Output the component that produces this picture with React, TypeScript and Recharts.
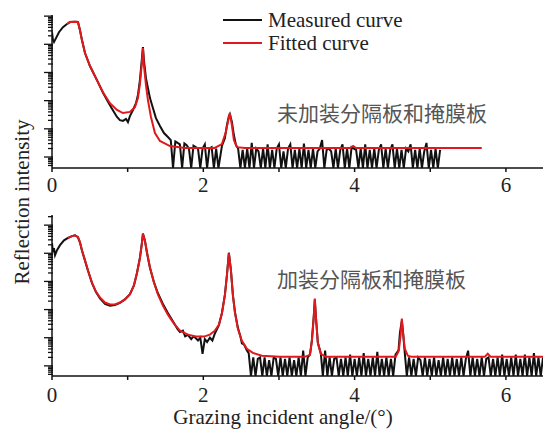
import React from 'react';
import { LineChart, Line, XAxis, YAxis } from 'recharts';

// ---------- axis ticks ----------
const xTicks = [0, 1, 2, 3, 4, 5, 6];
const xTickLabels = ['0', '', '2', '', '4', '', '6'];
const decades = [-1, 0, 1, 2, 3, 4, 5];
const minorMultipliers = [2, 3, 4, 5, 6, 7, 8, 9];

const legendLabels = ['Measured curve', 'Fitted curve'];
const panelNotes = ['未加装分隔板和掩膜板', '加装分隔板和掩膜板'];
const xAxisTitle = 'Grazing incident angle/(°)';
const yAxisTitle = 'Reflection intensity';

// ---------- data: log10 of reflection intensity ----------
const FT = -0.39; // zero counts, top panel floor
const FB = -0.36; // zero counts, bottom panel floor

// Top panel (without spacer / mask plate)
const fittedTopX = [0.198, 0.238, 0.304, 0.343, 0.37, 0.396, 0.436, 0.502, 0.594, 0.674, 0.766, 0.859, 0.938, 1.03, 1.096, 1.136, 1.162, 1.189, 1.202, 1.215, 1.242, 1.268, 1.308, 1.361, 1.427, 1.559, 1.757, 2.15, 2.246, 2.298, 2.325, 2.351, 2.378, 2.404, 2.444, 2.55, 3.94, 3.98, 4.02, 5.68];
const fittedTopY = [4.72, 4.79, 4.8, 4.79, 4.5, 4.15, 3.69, 3.23, 2.73, 2.3, 1.91, 1.67, 1.56, 1.6, 1.77, 2.09, 2.59, 3.37, 3.87, 3.26, 2.55, 2.02, 1.42, 0.85, 0.57, 0.39, 0.32, 0.32, 0.46, 0.89, 1.24, 1.56, 1.13, 0.6, 0.35, 0.32, 0.32, 0.39, 0.32, 0.32];

const measuredTopX = [
  0, 0.013, 0.026, 0.053, 0.092, 0.145, 0.198, 0.238, 0.304, 0.343, 0.37, 0.396, 0.436, 0.502, 0.594, 0.674,
  0.766, 0.819, 0.859, 0.898, 0.938, 0.978, 1.004, 1.03, 1.07, 1.11, 1.136, 1.162, 1.189, 1.202, 1.215, 1.242,
  1.268, 1.295, 1.334, 1.374, 1.427, 1.48, 1.532, 1.57,
  1.6, 1.63, 1.66, 1.69, 1.72, 1.75, 1.78, 1.81, 1.84, 1.87, 1.9, 1.93, 1.96, 1.99, 2.02, 2.05, 2.08, 2.11, 2.14, 2.17, 2.2,
  2.246, 2.285, 2.312, 2.338, 2.351, 2.378, 2.404, 2.431,
  2.46, 2.49, 2.52, 2.55, 2.58, 2.61, 2.64, 2.67, 2.7, 2.73, 2.76, 2.79, 2.82, 2.85, 2.88, 2.91, 2.94, 2.97, 3.0, 3.03,
  3.06, 3.09, 3.12, 3.15, 3.18, 3.21, 3.24, 3.27, 3.3, 3.33, 3.36, 3.39, 3.42, 3.45, 3.48, 3.51, 3.54, 3.57, 3.6, 3.63,
  3.66, 3.69, 3.72, 3.75, 3.78, 3.81, 3.84, 3.87, 3.9, 3.93, 3.96, 3.99, 4.02, 4.05, 4.08, 4.11, 4.14, 4.17, 4.2, 4.23,
  4.26, 4.29, 4.32, 4.35, 4.38, 4.41, 4.44, 4.47, 4.5, 4.53, 4.56, 4.59, 4.62, 4.65, 4.68, 4.71, 4.74, 4.77, 4.8, 4.83,
  4.86, 4.89, 4.92, 4.95, 4.98, 5.01, 5.04, 5.07, 5.1, 5.13,
];
const measuredTopY = [
  4.43, 4.15, 4.08, 4.22, 4.43, 4.61, 4.72, 4.79, 4.8, 4.79, 4.5, 4.15, 3.69, 3.23, 2.73, 2.28,
  1.84, 1.6, 1.42, 1.31, 1.28, 1.35, 1.24, 1.45, 1.67, 1.91, 2.2, 2.73, 3.51, 3.9, 3.44, 2.8,
  2.45, 2.09, 1.74, 1.38, 1.1, 0.85, 0.71, 0.6,
  FT, 0.55, 0.5, 0.45, FT, 0.48, 0.42, 0.3, FT, 0.4, 0.35, 0.3, FT, 0.3, 0.45, FT, 0.3, 0.35, FT, 0.3, FT,
  0.39, 0.67, 1.13, 1.45, 1.52, 1.24, 0.78, 0.43,
  0.3, FT, 0.25, FT, 0.3, FT, 0.5, FT, 0.3, 0.2, FT, 0.3, FT, 0.45, FT, 0.25, FT, 0.3, 0.45, FT,
  0.2, FT, 0.3, 0.45, FT, 0.25, FT, 0.3, FT, 0.48, FT, 0.25, FT, 0.3, FT, 0.2, 0.3, 0.6, FT, 0.25,
  0.3, 0.2, FT, 0.3, FT, 0.25, 0.45, FT, 0.3, FT, 0.35, 0.3, 0.25, FT, 0.3, FT, 0.45, FT, 0.25, FT,
  0.3, FT, 0.25, 0.45, FT, 0.3, FT, 0.25, 0.45, FT, 0.3, FT, 0.25, FT, 0.3, 0.2, 0.45, FT, 0.25, FT,
  0.3, FT, 0.2, 0.5, FT, 0.25, FT, 0.3, FT, 0.25,
];

// Bottom panel (with spacer / mask plate)
const fittedBottomX = [0.211, 0.264, 0.304, 0.343, 0.37, 0.396, 0.436, 0.476, 0.528, 0.581, 0.634, 0.7, 0.766, 0.832, 0.898, 0.964, 1.03, 1.083, 1.123, 1.162, 1.189, 1.202, 1.228, 1.255, 1.295, 1.347, 1.4, 1.466, 1.532, 1.612, 1.691, 1.797, 1.902, 2.008, 2.087, 2.153, 2.206, 2.246, 2.285, 2.312, 2.338, 2.365, 2.391, 2.418, 2.457, 2.51, 2.576, 2.655, 2.774, 3.01, 3.34, 3.41, 3.435, 3.461, 3.474, 3.487, 3.514, 3.553, 3.62, 4.544, 4.584, 4.61, 4.624, 4.637, 4.663, 4.703, 4.756, 5.72, 5.76, 5.8, 6.49];
const fittedBottomY = [4.54, 4.61, 4.64, 4.57, 4.39, 4.11, 3.75, 3.39, 2.96, 2.64, 2.43, 2.25, 2.18, 2.18, 2.25, 2.36, 2.54, 2.86, 3.29, 3.82, 4.36, 4.68, 4.46, 4.04, 3.5, 2.96, 2.54, 2.14, 1.82, 1.5, 1.25, 1.11, 1.04, 1.04, 1.11, 1.25, 1.46, 1.86, 2.5, 3.21, 4.0, 3.39, 2.5, 1.89, 1.32, 0.89, 0.61, 0.46, 0.36, 0.32, 0.32, 0.39, 0.89, 1.79, 2.39, 1.79, 0.82, 0.43, 0.32, 0.32, 0.54, 1.14, 1.68, 1.25, 0.61, 0.36, 0.32, 0.32, 0.43, 0.32, 0.32];

const measuredBottomX = [
  0, 0.013, 0.026, 0.04, 0.066, 0.106, 0.159, 0.211, 0.264, 0.304, 0.343, 0.37, 0.396, 0.436, 0.476, 0.528,
  0.581, 0.634, 0.7, 0.766, 0.832, 0.898, 0.964, 1.03, 1.083, 1.123, 1.162, 1.189, 1.202, 1.228, 1.255, 1.295,
  1.347, 1.4, 1.466, 1.532, 1.612, 1.66, 1.691, 1.73, 1.76, 1.797, 1.84, 1.87, 1.902, 1.93, 1.96, 1.99, 2.02, 2.05,
  2.087, 2.12, 2.153, 2.18, 2.206, 2.246, 2.285, 2.312, 2.338, 2.365, 2.391, 2.418, 2.457, 2.49, 2.51, 2.54, 2.576,
  2.6, 2.63, 2.66, 2.69, 2.72, 2.75, 2.78, 2.81, 2.84, 2.87, 2.9, 2.93, 2.96, 2.99, 3.02, 3.05, 3.08, 3.11, 3.14, 3.17,
  3.2, 3.23, 3.26, 3.29, 3.32, 3.35, 3.38,
  3.41, 3.435, 3.461, 3.474, 3.487, 3.514, 3.553,
  3.58, 3.61, 3.64, 3.67, 3.7, 3.73, 3.76, 3.79, 3.82, 3.85, 3.88, 3.91, 3.94, 3.97, 4.0, 4.03, 4.06, 4.09, 4.12, 4.15,
  4.18, 4.21, 4.24, 4.27, 4.3, 4.33, 4.36, 4.39, 4.42, 4.45, 4.48, 4.51, 4.54,
  4.58, 4.6, 4.624, 4.64, 4.66,
  4.69, 4.72, 4.75, 4.78, 4.81, 4.84, 4.87, 4.9, 4.93, 4.96, 4.99, 5.02, 5.05, 5.08, 5.11, 5.14, 5.17, 5.2, 5.23, 5.26,
  5.29, 5.32, 5.35, 5.38, 5.41, 5.44, 5.47, 5.5, 5.53, 5.56, 5.59, 5.62, 5.65, 5.68, 5.71, 5.74, 5.77, 5.8, 5.83, 5.86,
  5.89, 5.92, 5.95, 5.98, 6.01, 6.04, 6.07, 6.1, 6.13, 6.16, 6.19, 6.22, 6.25, 6.28, 6.31, 6.34, 6.37, 6.4, 6.43, 6.46, 6.49,
];
const measuredBottomY = [
  4.36, 4.04, 4.18, 3.93, 4.11, 4.29, 4.46, 4.55, 4.61, 4.64, 4.57, 4.38, 4.1, 3.74, 3.38, 2.95,
  2.62, 2.4, 2.2, 2.14, 2.16, 2.24, 2.36, 2.55, 2.86, 3.3, 3.84, 4.38, 4.7, 4.45, 4.02, 3.48,
  2.98, 2.58, 2.2, 1.88, 1.52, 1.3, 1.2, 1.25, 1.05, 1.1, 0.95, 1.05, 0.98, 0.9, 1.0, 0.43, 0.95, 0.85,
  1.0, 0.9, 1.15, 1.3, 1.45, 1.88, 2.52, 3.22, 4.02, 3.4, 2.52, 1.92, 1.35, 1.05, 0.8, 0.75, 0.55,
  0.45, FB, 0.3, FB, 0.25, 0.3, FB, 0.3, FB, 0.2, FB, 0.3, 0.25, FB, 0.3, FB, 0.25, FB, 0.3, FB,
  0.2, FB, 0.3, FB, 0.54, FB, 0.3,
  0.4, 0.9, 1.8, 2.35, 1.8, 0.82, 0.45,
  FB, 0.54, FB, 0.3, FB, 0.25, 0.3, FB, 0.25, FB, 0.3, FB, 0.4, FB, 0.25, FB, 0.3, FB, 0.45, FB,
  0.25, FB, 0.3, FB, 0.5, FB, 0.25, FB, 0.3, FB, 0.25, FB, 0.4,
  0.55, 1.2, 1.6, 1.2, 0.55,
  FB, 0.3, FB, 0.25, FB, 0.3, 0.2, FB, 0.3, FB, 0.25, FB, 0.3, FB, 0.2, FB, 0.3, FB, 0.25, FB,
  0.3, FB, 0.25, FB, 0.3, FB, 0.25, 0.54, FB, 0.3, FB, 0.25, FB, 0.3, FB, 0.25, 0.3, FB, 0.25, FB,
  0.3, FB, 0.4, FB, 0.25, FB, 0.3, FB, 0.4, FB, 0.25, FB, 0.4, FB, 0.3, FB, 0.45, FB, 0.3, FB, 0.3,
];

// ---------- helpers ----------
const toPoints = (xs: number[], ys: number[]) => xs.map((x, i) => ({ x, y: ys[i] }));

const buildYTicks = (lo: number, hi: number) => {
  const t: number[] = [];
  decades.forEach((d) => {
    if (d >= lo && d <= hi) t.push(d);
    minorMultipliers.forEach((m) => {
      const v = d + Math.log10(m);
      if (v >= lo && v <= hi) t.push(v);
    });
  });
  return t.sort((a, b) => a - b);
};

const LogTick = (props: any) => {
  const { x, y, payload } = props;
  const v = payload.value;
  const major = Math.abs(v - Math.round(v)) < 1e-6;
  const len = major ? 8 : 4;
  return <line x1={x - len} y1={y} x2={x + 1} y2={y} stroke="#111" strokeWidth={1.3} />;
};

const BLACK = '#111111';
const RED = '#e0191c';
const FONT = '"Liberation Serif", "Times New Roman", serif';

const Panel = ({
  measured,
  fitted,
  domain,
  height,
  xAxisHeight,
  tickMargin,
}: {
  measured: { x: number; y: number }[];
  fitted: { x: number; y: number }[];
  domain: [number, number];
  height: number;
  xAxisHeight: number;
  tickMargin: number;
}) => (
  <LineChart width={543} height={height} margin={{ top: 15, right: 0, bottom: 0, left: 42 }}>
    <XAxis
      type="number"
      dataKey="x"
      domain={[0, 6.49]}
      allowDataOverflow
      ticks={xTicks}
      interval={0}
      tickFormatter={(v: number) => xTickLabels[xTicks.indexOf(v)] ?? ''}
      height={xAxisHeight}
      tickSize={4}
      tickMargin={tickMargin}
      axisLine={{ stroke: BLACK, strokeWidth: 1.5 }}
      tickLine={{ stroke: BLACK, strokeWidth: 1.5 }}
      tick={{ fontSize: 21, fontFamily: FONT, fill: '#222' }}
    />
    <YAxis
      type="number"
      dataKey="y"
      domain={domain}
      allowDataOverflow
      ticks={buildYTicks(domain[0], domain[1])}
      interval={0}
      width={10}
      tickSize={0}
      tickMargin={0}
      tickLine={false}
      axisLine={{ stroke: BLACK, strokeWidth: 1.5 }}
      tick={LogTick}
    />
    <Line data={measured} dataKey="y" type="linear" stroke={BLACK} strokeWidth={2} dot={false} isAnimationActive={false} />
    <Line data={fitted} dataKey="y" type="linear" stroke={RED} strokeWidth={2} dot={false} isAnimationActive={false} />
  </LineChart>
);

export default function App() {
  const textStyle = { fontFamily: FONT, fontSize: 21, fill: '#222' };
  const cjkStyle = { fontFamily: '"Noto Sans CJK SC", sans-serif', fontSize: 21, fill: '#555' };
  return (
    <div style={{ position: 'absolute', left: 0, top: 0, width: 543, height: 437, background: '#fff', overflow: 'hidden' }}>
      <div style={{ position: 'absolute', left: 0, top: 0 }}>
        <Panel
          measured={toPoints(measuredTopX, measuredTopY)}
          fitted={toPoints(fittedTopX, fittedTopY)}
          domain={[FT, 5.04]}
          height={200}
          xAxisHeight={32}
          tickMargin={5}
        />
      </div>
      <div style={{ position: 'absolute', left: 0, top: 200 }}>
        <Panel
          measured={toPoints(measuredBottomX, measuredBottomY)}
          fitted={toPoints(fittedBottomX, fittedBottomY)}
          domain={[FB, 5.36]}
          height={210}
          xAxisHeight={34}
          tickMargin={7}
        />
      </div>
      <svg width={543} height={437} style={{ position: 'absolute', left: 0, top: 0, pointerEvents: 'none' }}>
        <line x1={223} y1={20} x2={262} y2={20} stroke={BLACK} strokeWidth={2} />
        <line x1={223} y1={43} x2={262} y2={43} stroke={RED} strokeWidth={2} />
        <text x={268} y={20} dominantBaseline="central" style={textStyle}>{legendLabels[0]}</text>
        <text x={268} y={43} dominantBaseline="central" style={textStyle}>{legendLabels[1]}</text>
        <text x={277} y={112} dominantBaseline="central" style={cjkStyle}>{panelNotes[0]}</text>
        <text x={277} y={278} dominantBaseline="central" style={cjkStyle}>{panelNotes[1]}</text>
        <text x={283} y={417} textAnchor="middle" dominantBaseline="central" style={textStyle}>{xAxisTitle}</text>
        <text transform="translate(22,202) rotate(-90)" textAnchor="middle" dominantBaseline="central" style={textStyle}>{yAxisTitle}</text>
      </svg>
    </div>
  );
}
